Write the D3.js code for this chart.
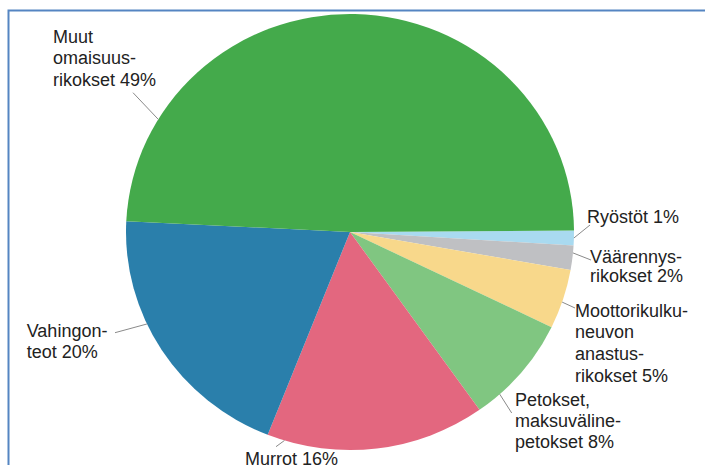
<!DOCTYPE html>
<html>
<head>
<meta charset="utf-8">
<script src="https://cdn.jsdelivr.net/npm/d3@7"></script>
<style>
  body { margin: 0; background: #fff; }
  svg { display: block; }
  .lbl { font-family: "Liberation Sans", Arial, sans-serif; font-size: 18px; fill: #222; }
</style>
</head>
<body>
<div class="chart"></div>
<script>
// data, clockwise from 3 o'clock
const categories = ['Ryöstöt', 'Väärennysrikokset', 'Moottorikulkuneuvon anastusrikokset', 'Petokset, maksuvälinepetokset', 'Murrot', 'Vahingonteot', 'Muut omaisuusrikokset']
const shares = [1.1, 1.8, 4.4, 8.0, 15.8, 19.8, 49.1]
const labelLines = [
  ['Ryöstöt 1%'],
  ['Väärennys-', 'rikokset 2%'],
  ['Moottorikulku-', 'neuvon', 'anastus-', 'rikokset 5%'],
  ['Petokset,', 'maksuväline-', 'petokset 8%'],
  ['Murrot 16%'],
  ['Vahingon-', 'teot 20%'],
  ['Muut', 'omaisuus-', 'rikokset 49%']
]
const colors = ['#a9daf0', '#bfc0c3', '#f8d88b', '#80c681', '#e3677f', '#2a7fab', '#44aa4b']

// label layout: text pos, line height, where the leader sits on the slice (0..1), leader end
const labelLayout = [
  { x: 587, y: 222.7, lh: 21.5, t: 0.5, ex: 590, ey: 225 },
  { x: 590, y: 262.7, lh: 19, t: 0.3, ex: 591, ey: 260 },
  { x: 575, y: 316.7, lh: 21.6, t: 0.55, ex: 575, ey: 308 },
  { x: 515, y: 406, lh: 21.2, t: 0.77, ex: 511.7, ey: 413 },
  { x: 245, y: 465, lh: 21.5, t: 0.92, ex: 276, ey: 446.7 },
  { x: 26.7, y: 336.7, lh: 21.6, t: 0.61, ex: 115, ey: 332.7 },
  { x: 53, y: 42.7, lh: 21.7, t: 0.16, ex: 133, ey: 92.7 }
]

const width = 705
const height = 465
const cx = 350
const cy = 232
const r = 218
const sx = 224 / 218 // picture is a bit wider than tall

const svg = d3.select('.chart')
  .append('svg')
  .attr('width', width)
  .attr('height', height)

// chart frame
svg.append('rect')
  .attr('x', 8.5)
  .attr('y', 10.5)
  .attr('width', width + 20)
  .attr('height', height + 20)
  .attr('fill', 'none')
  .attr('stroke', '#5585c2')
  .attr('stroke-width', 2)

const a0 = 89.6 * Math.PI / 180
const pie = d3.pie()
  .sort(null)
  .startAngle(a0)
  .endAngle(a0 + 2 * Math.PI)
  .value(d => d)
const piedata = pie(shares)

const arc = d3.arc()
  .innerRadius(0)
  .outerRadius(r)

svg.append('g')
  .attr('transform', 'translate(' + cx + ',' + cy + ') scale(' + sx + ',1)')
  .selectAll('path')
  .data(piedata)
  .enter()
  .append('path')
  .attr('fill', (d, i) => colors[i])
  .attr('d', arc)

// leader lines
piedata.forEach((d, i) => {
  const l = labelLayout[i]
  const a = d.startAngle + (d.endAngle - d.startAngle) * l.t
  const x1 = cx + sx * r * Math.sin(a)
  const y1 = cy - r * Math.cos(a)
  svg.append('line')
    .attr('x1', x1)
    .attr('y1', y1)
    .attr('x2', l.ex)
    .attr('y2', l.ey)
    .attr('stroke', '#8a8a8a')
    .attr('stroke-width', 1)
})

// labels
labelLines.forEach((lines, i) => {
  const l = labelLayout[i]
  const txt = svg.append('text')
    .attr('class', 'lbl')
  lines.forEach((s, j) => {
    txt.append('tspan')
      .attr('x', l.x)
      .attr('y', l.y + j * l.lh)
      .text(s)
  })
})
</script>
</body>
</html>
